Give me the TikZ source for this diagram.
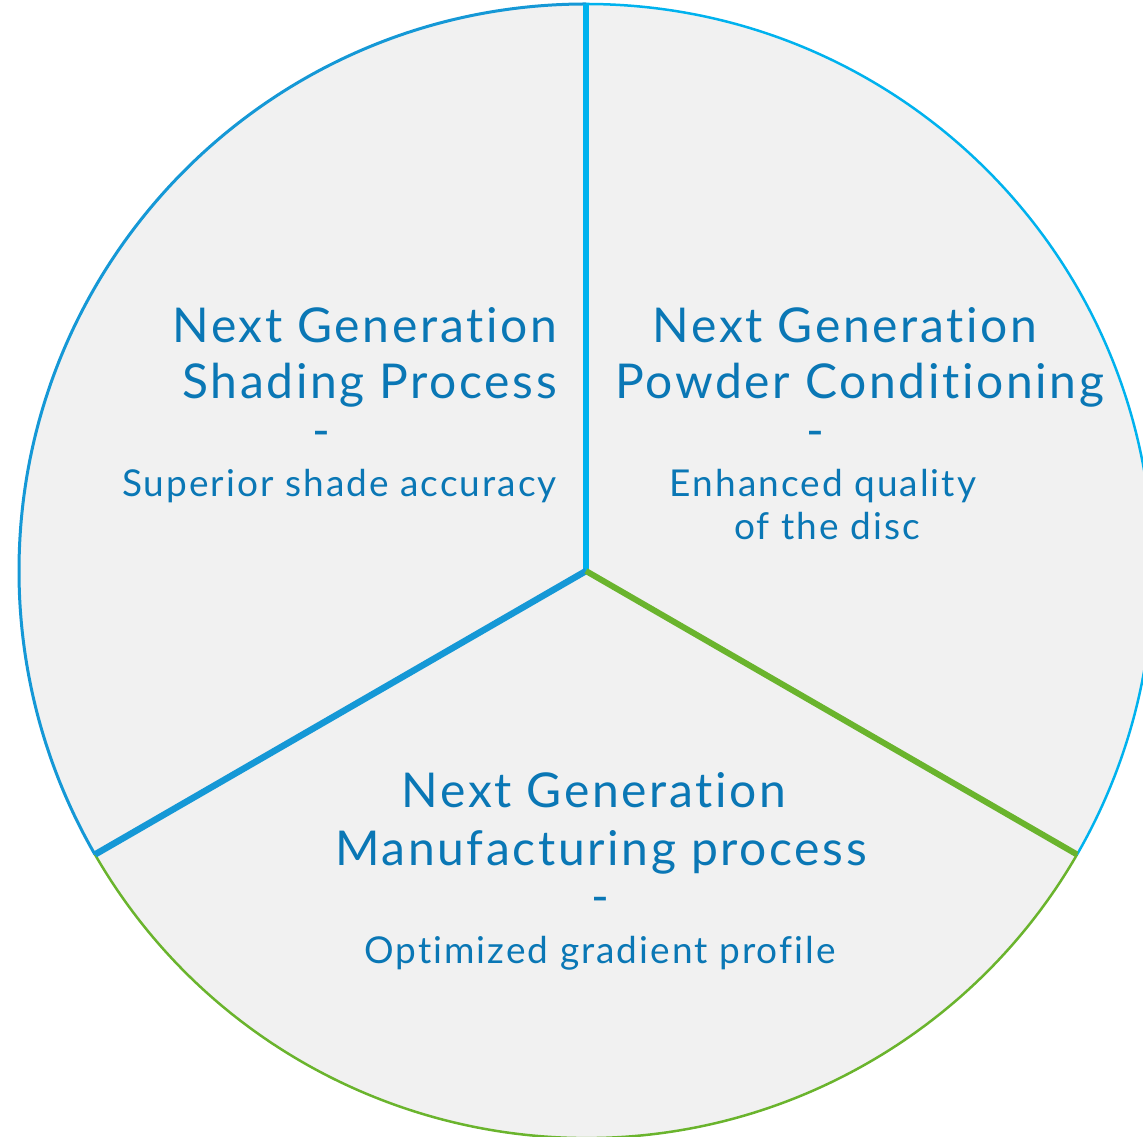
\documentclass[tikz,border=0pt]{standalone}
\usepackage{fontspec}
\setmainfont{Lato}[Ligatures=NoCommon, LetterSpace=5.5]
\usetikzlibrary{calc}
\definecolor{diskfill}{HTML}{F1F1F1}
\definecolor{cyanline}{HTML}{00B2EE}
\definecolor{blueline}{HTML}{1598D6}
\definecolor{greenline}{HTML}{6AB42D}
\definecolor{txtblue}{HTML}{0A77B5}
\tikzset{
  head/.style={text=txtblue, font=\fontsize{48}{56}\selectfont, inner sep=0pt},
  sub/.style={text=txtblue, font=\fontsize{37}{44}\selectfont, inner sep=0pt},
}
\begin{document}
\begin{tikzpicture}[x=1pt,y=1pt]
\useasboundingbox (0,0) rectangle (1143,1136);
\clip (0,0) rectangle (1143,1136);
\coordinate (c) at (586,565);
\def\R{567}
% disc
\fill[diskfill] (c) circle (\R);
% rim, one arc per sector
\draw[blueline, line width=3pt] ($(c)+(90:\R)$) arc[start angle=90, end angle=210, radius=\R];
\draw[cyanline, line width=2.5pt] ($(c)+(90:\R)$) arc[start angle=90, end angle=-30, radius=\R];
\draw[greenline, line width=2.5pt] ($(c)+(210:\R)$) arc[start angle=210, end angle=330, radius=\R];
% sector dividers
\coordinate (top) at ($(c)+(90:\R)$);
\coordinate (ll) at ($(c)+(210:\R)$);
\coordinate (lr) at ($(c)+(330:\R)$);
\draw[cyanline, line width=6pt] (c) -- (top);
\draw[blueline, line width=6.5pt] (c) -- (ll);
\draw[greenline, line width=6pt] (c) -- (lr);
% left sector
\node[head, anchor=base east] (l1) at (557,793) {Next Generation};
\node[head, anchor=base east] (l2) at (557,737) {Shading Process};
\node[head, anchor=base] (l3) at (321,688) {-};
\node[sub, anchor=base east] (l4) at (557,639) {Superior shade accuracy};
% right sector
\node[head, anchor=base] (r1) at (845,793) {Next Generation};
\node[head, anchor=base] (r2) at (860,737) {Powder Conditioning};
\node[head, anchor=base] (r3) at (815,688) {-};
\node[sub, anchor=base] (r4) at (823,639) {Enhanced quality};
\node[sub, anchor=base] (r5) at (827,596) {of the disc};
% bottom sector
\node[head, anchor=base] (b1) at (594,328) {Next Generation};
\node[head, anchor=base] (b2) at (601,271) {Manufacturing process};
\node[head, anchor=base] (b3) at (600,223) {-};
\node[sub, anchor=base] (b4) at (600,173) {Optimized gradient profile};
\end{tikzpicture}
\end{document}
